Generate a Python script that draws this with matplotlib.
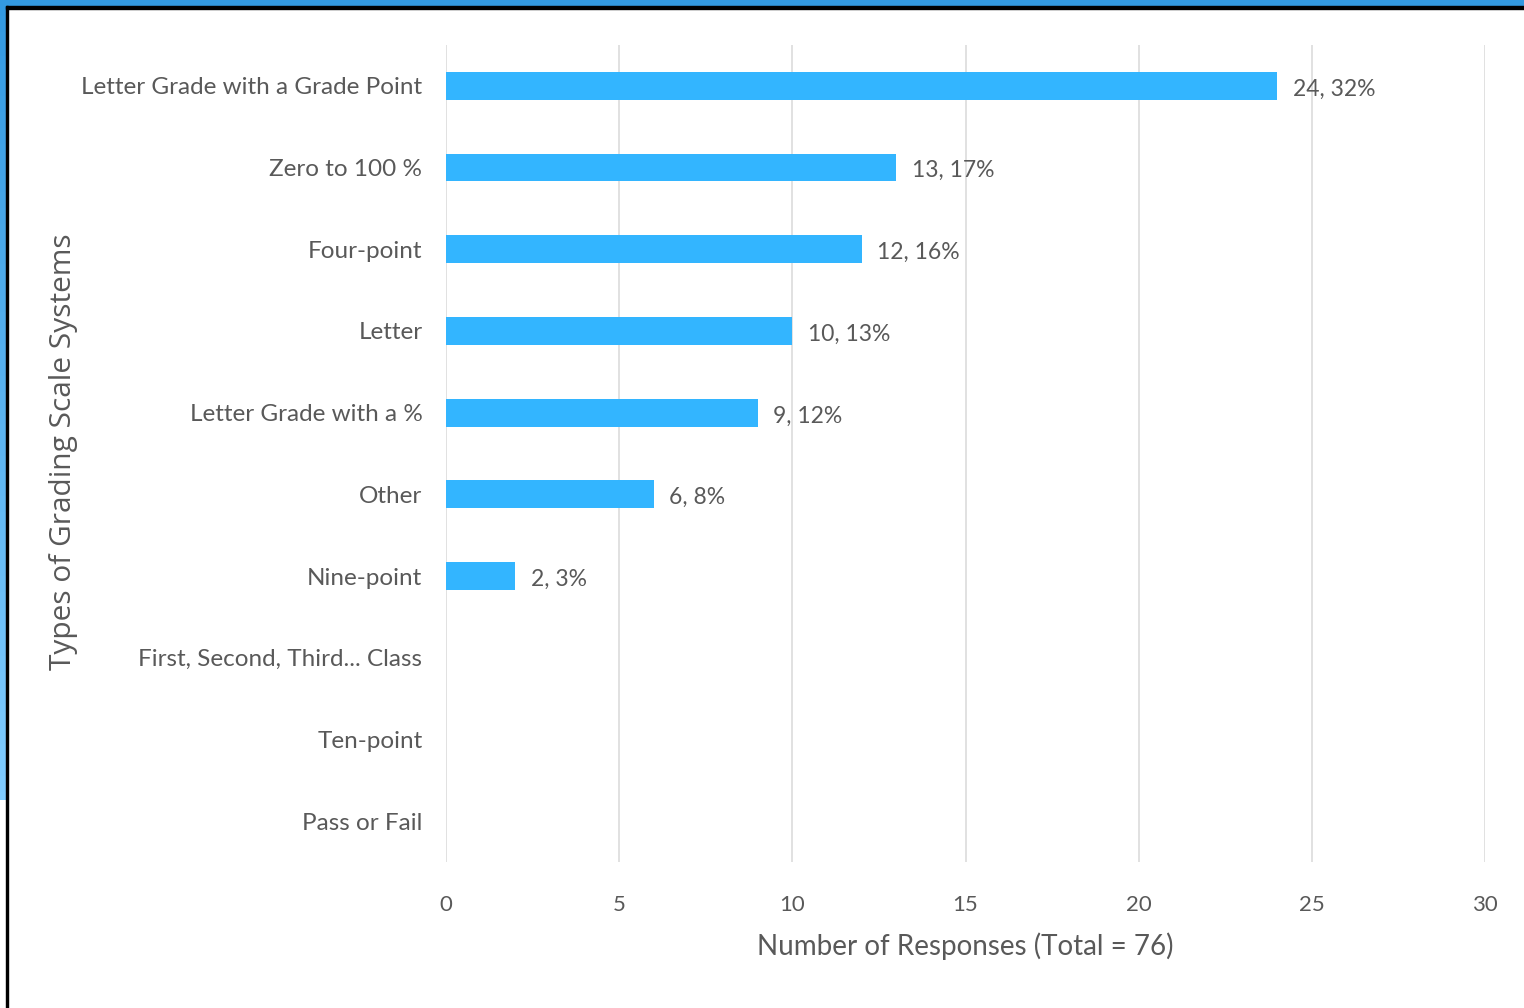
import numpy as np
import matplotlib

matplotlib.use("Agg")
import matplotlib.pyplot as plt
from matplotlib.colors import LinearSegmentedColormap
from matplotlib.patches import Rectangle

categories = [
    "Letter Grade with a Grade Point",
    "Zero to 100 %",
    "Four-point",
    "Letter",
    "Letter Grade with a %",
    "Other",
    "Nine-point",
    "First, Second, Third... Class",
    "Ten-point",
    "Pass or Fail",
]
counts = [24, 13, 12, 10, 9, 6, 2, 0, 0, 0]
percents = [32, 17, 16, 13, 12, 8, 3, 0, 0, 0]
x_ticks = [0, 5, 10, 15, 20, 25, 30]

TEXT = "#595959"
BAR = "#33b5ff"
FONT = ["Lato", "DejaVu Sans"]

fig = plt.figure(figsize=(15.24, 10.08), dpi=100)
fig.patch.set_facecolor("white")

# frame: blue band on top and left, thin black line inside it
W, H = 1524, 1008
grad = LinearSegmentedColormap.from_list("edge", ["#3399e0", "#80ccff"])
gax = fig.add_axes([0, 1 - 800 / H, 6 / W, 800 / H])
gax.imshow(np.linspace(0, 1, 100).reshape(-1, 1), aspect="auto", cmap=grad)
gax.axis("off")
fig.patches.append(Rectangle((0, 1 - 6 / H), 1, 6 / H, transform=fig.transFigure,
                             color="#3399e0", zorder=5))
fig.patches.append(Rectangle((6 / W, 0), 2 / W, 1 - 6 / H, transform=fig.transFigure,
                             color="black", zorder=6))
fig.patches.append(Rectangle((6 / W, 1 - 9 / H), 1, 3 / H, transform=fig.transFigure,
                             color="black", zorder=6))

ax = fig.add_axes([446 / W, 1 - 862 / H, (1485 - 446) / W, (862 - 45) / H])
y = np.arange(len(categories))
ax.barh(y, counts, height=0.34, color=BAR, zorder=3)
ax.set_ylim(len(categories) - 0.5, -0.5)
ax.set_xlim(0, 30)
ax.set_xticks(x_ticks)
ax.set_yticks(y)
ax.set_yticklabels(categories, family=FONT, fontsize=17.5, color=TEXT)
ax.set_xticklabels([str(t) for t in x_ticks], family=FONT, fontsize=16, color=TEXT)
ax.tick_params(axis="y", length=0, pad=17)
ax.tick_params(axis="x", length=0, pad=24)
ax.grid(axis="x", color="#dedede", linewidth=1.3, zorder=0)
for s in ax.spines.values():
    s.set_visible(False)

for yi, c, p in zip(y, counts, percents):
    if c > 0:
        ax.text(c + 0.45, yi + 0.04, f"{c}, {p}%", va="center", ha="left",
                family=FONT, fontsize=16.5, color=TEXT)

ax.set_xlabel("Number of Responses (Total = 76)", family=FONT, fontsize=20,
              color=TEXT, labelpad=12)
fig.text(63 / W, 1 - 452 / H, "Types of Grading Scale Systems", rotation=90,
         ha="center", va="center", family="Open Sans", fontsize=21.5, color=TEXT)

fig.savefig("out.png", dpi=100)
